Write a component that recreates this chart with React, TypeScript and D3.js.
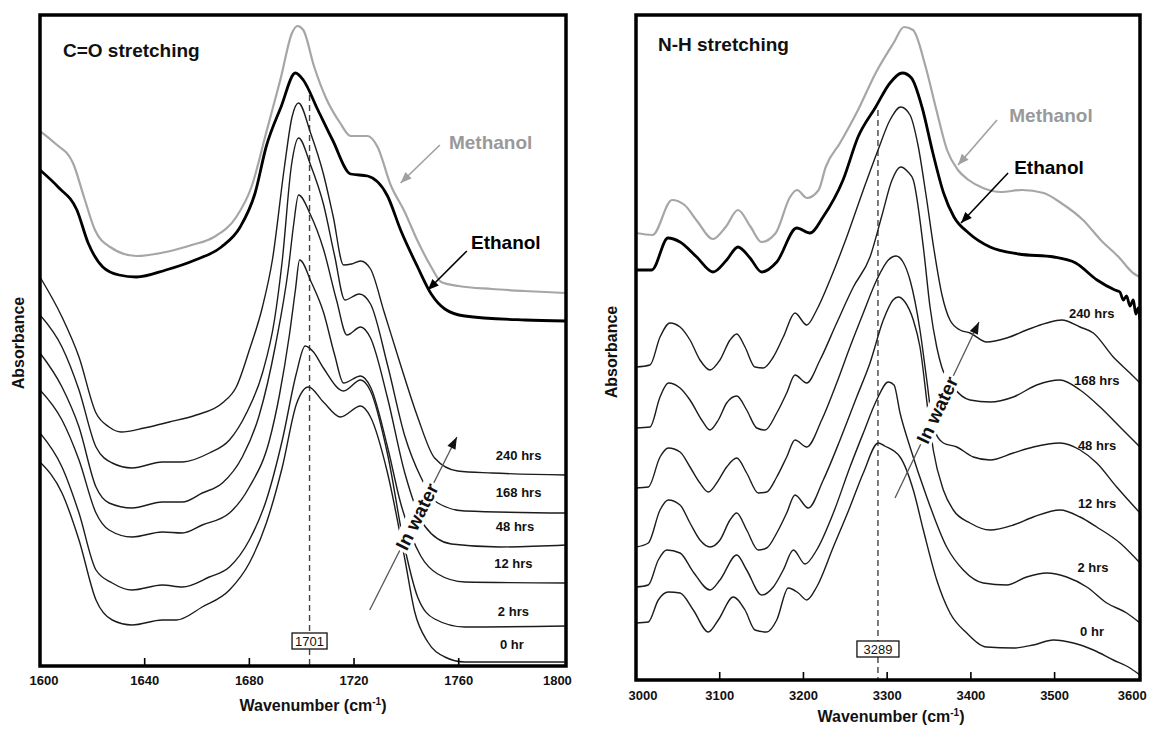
import React from 'react';
import * as d3 from 'd3';

type Pt = [number, number];

// ---------- C=O stretching (wavenumber, absorbance a.u.) ----------
const coMethanol: Pt[] = [
  [1600, 535], [1605.6, 523], [1612.6, 503], [1616.8, 469], [1621, 436], [1626.8, 419], [1636.8, 410],
  [1648.1, 414], [1658, 421], [1666.5, 429], [1675, 449], [1680.8, 479], [1686.4, 533], [1692.1, 589],
  [1696.3, 633], [1698.4, 640], [1700.6, 636], [1704.8, 599], [1709.1, 569], [1714.7, 543], [1718.7, 530],
  [1725.2, 530], [1729, 519], [1734, 481], [1739.2, 455], [1744.3, 425], [1749.5, 399], [1753.3, 384],
  [1760, 380], [1772.7, 377], [1785, 375], [1801, 373],
];
const coEthanol: Pt[] = [
  [1600, 496], [1606.9, 479], [1614.1, 456], [1618.4, 423], [1624, 399], [1630.2, 391], [1636.8, 389],
  [1648.1, 396], [1659.3, 406], [1669.3, 419], [1676.5, 439], [1682.2, 473], [1686.4, 519], [1692.1, 559],
  [1697.6, 593], [1700.6, 586], [1706.2, 556], [1711.8, 526], [1718.7, 492], [1725.2, 490], [1732.8, 470],
  [1737.8, 436], [1744.3, 399], [1749.5, 372], [1754.7, 357], [1762.3, 350], [1785.3, 346], [1801, 345],
];
const co240: Pt[] = [
  [1600, 389], [1608.4, 349], [1614.9, 309], [1621.4, 253], [1626.4, 239], [1631, 234], [1639.8, 238],
  [1649.4, 244], [1659.7, 251], [1669.7, 263], [1675, 279], [1680, 316], [1685, 359], [1688.8, 406],
  [1693.4, 499], [1696.3, 549], [1698.8, 563], [1703.4, 533], [1708.3, 492], [1712, 450], [1716, 401],
  [1719, 402], [1722.5, 405], [1726.3, 397], [1731.5, 354], [1737.8, 301], [1744.3, 249], [1750.8, 208],
  [1759.6, 195], [1772.7, 193], [1801, 191],
];
const co168: Pt[] = [
  [1600, 351], [1608.4, 319], [1614.9, 276], [1621.4, 219], [1627.6, 203], [1635.2, 198], [1646.7, 204],
  [1654.4, 204], [1664.7, 213], [1672.4, 226], [1678.9, 253], [1685, 293], [1689.6, 346], [1692.6, 406],
  [1696.1, 501], [1698.8, 528], [1703.4, 501], [1708.3, 462], [1712.6, 410], [1716.5, 366], [1722, 372],
  [1726.3, 362], [1732.8, 301], [1739.4, 230], [1745.5, 189], [1752, 163], [1762.3, 155], [1801, 153],
];
const co48: Pt[] = [
  [1600, 313], [1608.4, 279], [1614.9, 239], [1621.4, 179], [1626.4, 163], [1635.2, 158], [1646.7, 164],
  [1654.4, 164], [1662, 173], [1669.7, 183], [1677.3, 209], [1683.8, 251], [1690, 321], [1695, 399],
  [1696.9, 441], [1698.8, 471], [1703.4, 451], [1708.3, 417], [1713.3, 366], [1717.3, 331], [1722.5, 339],
  [1726.3, 328], [1732.8, 268], [1739.4, 193], [1747, 140], [1757.2, 122], [1775.7, 119], [1801, 121],
];
const co12: Pt[] = [
  [1600, 276], [1608.4, 246], [1614.9, 206], [1621.4, 153], [1626.4, 136], [1635.2, 129], [1646.7, 134],
  [1654.4, 133], [1662, 141], [1672.4, 153], [1680, 179], [1687.7, 226], [1691.5, 271], [1695.3, 331],
  [1697.6, 376], [1699.2, 406], [1703.8, 383], [1708.3, 354], [1712.6, 311], [1716, 283], [1722.5, 290],
  [1726.3, 279], [1732.8, 219], [1737.8, 163], [1745.5, 110], [1752, 92], [1762.3, 84], [1801, 83],
];
const co2: Pt[] = [
  [1600, 233], [1608.4, 199], [1614.9, 153], [1621.4, 96], [1627.6, 83], [1635.2, 76], [1646.7, 81],
  [1654.4, 79], [1664.7, 89], [1672.4, 99], [1680, 126], [1686.5, 166], [1692.6, 226], [1698, 293],
  [1701.3, 320], [1704.5, 314], [1708.3, 298], [1716, 275], [1722.5, 286], [1726.3, 275], [1732.8, 212],
  [1739.4, 118], [1744.3, 69], [1750.8, 47], [1762.3, 39], [1801, 40],
];
const co0: Pt[] = [
  [1600, 204], [1608.4, 173], [1614.9, 126], [1621.4, 66], [1627.6, 46], [1635.2, 41], [1646.7, 46],
  [1652.1, 46], [1662, 59], [1672.4, 76], [1680, 103], [1686.5, 143], [1692.6, 199], [1698, 262],
  [1702.6, 279], [1708.3, 264], [1714.8, 249], [1722.5, 260], [1726.3, 249], [1732.8, 193], [1739.4, 107],
  [1743.2, 54], [1748.2, 24], [1754.7, 9], [1762.3, 4], [1801, 4],
];

// ---------- N-H stretching ----------
const nhMethanol: Pt[] = [
  [3000, 447], [3019.7, 445], [3043, 480], [3058, 475], [3072.9, 459], [3092, 441], [3107.1, 453],
  [3121.8, 470], [3137, 453], [3149.8, 438], [3166.9, 447], [3184, 483], [3192.3, 490], [3204.3, 482],
  [3218.1, 490], [3226.6, 513], [3243.7, 537], [3265.2, 570], [3286.3, 607], [3307.7, 637], [3320.1, 653],
  [3330.9, 650], [3346, 613], [3358.8, 570], [3371.5, 530], [3384.5, 510], [3397.3, 500], [3414.5, 492],
  [3435.6, 488], [3461.1, 490], [3486.9, 487], [3507.7, 477], [3533.9, 460], [3555.1, 440], [3576.5, 423],
  [3593.7, 407], [3602, 403],
];
const nhEthanol: Pt[] = [
  [3000, 410], [3018.8, 410], [3038.2, 442], [3052.6, 438], [3072.5, 423], [3092, 408], [3108.3, 420],
  [3121.8, 433], [3136.2, 422], [3150.1, 408], [3168.1, 418], [3192, 452], [3207.8, 447], [3223.4, 463],
  [3247.3, 500], [3265.2, 543], [3286.3, 573], [3303.4, 597], [3318.3, 607], [3329, 602], [3341.6, 573],
  [3354.6, 527], [3367.4, 487], [3379.8, 463], [3397.3, 447], [3422.9, 433], [3457, 426], [3499.3, 423],
  [3525.2, 417], [3550.7, 400], [3572, 390], [3578, 388], [3582, 380], [3586, 384], [3590, 374],
  [3594, 380], [3597, 366], [3600, 372], [3602, 360],
];
const nh240: Pt[] = [
  [3000, 313], [3016.7, 315], [3028.7, 343], [3040.6, 357], [3052.6, 353], [3064.5, 340], [3076.4, 320],
  [3088.4, 310], [3100.3, 320], [3112.3, 340], [3120.3, 346], [3130.2, 333], [3142.1, 313], [3152.1, 312],
  [3164, 323], [3175.9, 343], [3189.9, 367], [3203.9, 355], [3215.8, 370], [3231.7, 400], [3251.7, 443],
  [3271.5, 490], [3289.1, 530], [3303.4, 560], [3316.2, 573], [3327.3, 565], [3336.8, 535], [3346.4, 485],
  [3356, 430], [3365.5, 385], [3375, 360], [3387, 350], [3399, 347], [3418.9, 338], [3442.8, 342],
  [3466.7, 350], [3490.6, 357], [3508.5, 360], [3530.4, 353], [3546.3, 347], [3570.1, 323], [3590, 307],
  [3602, 297],
];
const nh168: Pt[] = [
  [3000, 252], [3016.7, 253], [3028.7, 283], [3038.6, 297], [3052.6, 292], [3064.5, 280], [3078.5, 260],
  [3088.4, 250], [3098.3, 260], [3108.3, 277], [3120.3, 284], [3132.2, 270], [3144.2, 252], [3154.1, 250],
  [3168.1, 267], [3180, 287], [3189.9, 305], [3203.9, 297], [3219.8, 320], [3239.7, 357], [3259.6, 393],
  [3279.5, 423], [3293.9, 465], [3305.8, 500], [3316.2, 513], [3324.9, 508], [3331.2, 500], [3343.2, 433],
  [3351.2, 373], [3359.2, 333], [3365.2, 313], [3379, 293], [3399, 280], [3422.9, 278], [3450.7, 283],
  [3478.6, 295], [3506.5, 300], [3530.4, 290], [3554.3, 273], [3578.1, 253], [3602, 233],
];
const nh48: Pt[] = [
  [3000, 192], [3014.7, 193], [3028.7, 223], [3038.6, 232], [3052.6, 228], [3064.5, 213], [3076.4, 197],
  [3086.4, 188], [3096.4, 197], [3108.3, 213], [3120.3, 222], [3132.2, 207], [3146.1, 187], [3156.1, 188],
  [3168.1, 203], [3180, 223], [3189.9, 240], [3203.9, 233], [3221.8, 260], [3239.7, 297], [3255.6, 333],
  [3271.5, 367], [3287.5, 400], [3301.4, 420], [3310.6, 424], [3319, 418], [3327.3, 400], [3339.2, 350],
  [3347.3, 300], [3355.1, 253], [3367.1, 237], [3383.1, 233], [3402.9, 223], [3422.9, 220], [3450.7, 227],
  [3474.6, 233], [3506.5, 237], [3530.4, 230], [3550.3, 217], [3574.2, 193], [3602, 167],
];
const nh12: Pt[] = [
  [3000, 133], [3014.7, 137], [3028.7, 170], [3038.6, 180], [3052.6, 175], [3064.5, 157], [3076.4, 140],
  [3088.4, 133], [3100.3, 140], [3112.3, 160], [3120.3, 167], [3132.2, 150], [3146.1, 130], [3156.1, 132],
  [3168.1, 147], [3180, 167], [3189.9, 185], [3205.8, 172], [3223.7, 200], [3243.7, 240], [3263.6, 283],
  [3279.5, 317], [3295.4, 360], [3307, 380], [3313.3, 383], [3321.3, 378], [3331.2, 360], [3339.2, 333],
  [3349.1, 267], [3355.1, 230], [3367.1, 190], [3379, 170], [3399, 157], [3422.9, 150], [3450.7, 155],
  [3474.6, 163], [3506.5, 170], [3530.4, 163], [3550.3, 153], [3578.1, 137], [3602, 117],
];
const nh2: Pt[] = [
  [3000, 93], [3014.7, 95], [3026.6, 120], [3036.7, 130], [3052.6, 127], [3068.4, 108], [3088.4, 90],
  [3100.3, 100], [3120.3, 125], [3132.2, 110], [3150.1, 85], [3164, 93], [3175.9, 110], [3188, 130],
  [3201.9, 116], [3215.8, 130], [3235.7, 167], [3255.6, 213], [3271.5, 247], [3287.5, 280], [3301.4, 298],
  [3308.2, 295], [3315.4, 267], [3327.3, 233], [3347.3, 183], [3371.1, 133], [3390.9, 110], [3414.8, 97],
  [3442.7, 95], [3466.6, 103], [3490.5, 107], [3514.4, 103], [3538.4, 93], [3562.3, 77], [3586.1, 67],
  [3602, 57],
];
const nh0: Pt[] = [
  [3000, 57], [3014.7, 58], [3026.6, 80], [3038.6, 88], [3052.6, 87], [3068.4, 70], [3086.4, 48],
  [3098.3, 60], [3116.2, 83], [3130.2, 70], [3142.1, 50], [3156.1, 48], [3168.1, 60], [3181.9, 92],
  [3193.9, 87], [3203.9, 80], [3215.8, 93], [3235.7, 133], [3255.6, 173], [3271.5, 207], [3289.4, 237],
  [3297, 234], [3315.4, 223], [3331.2, 190], [3343.2, 150], [3359.2, 100], [3375.1, 67], [3395, 47],
  [3418.9, 33], [3450.7, 32], [3474.6, 35], [3498.5, 40], [3522.4, 37], [3546.3, 30], [3570.1, 20],
  [3590, 12], [3602, 5],
];

const coTicks = [1600, 1640, 1680, 1720, 1760, 1800];
const nhTicks = [3000, 3100, 3200, 3300, 3400, 3500, 3600];
const timeLabels = ['240 hrs', '168 hrs', '48 hrs', '12 hrs', '2 hrs', '0 hr'];
const solventLabels = ['Methanol', 'Ethanol'];

const FONT = "'Liberation Sans', Arial, Helvetica, sans-serif";

type PanelCfg = {
  id: string;
  title: string;
  titleX: number;
  titleY: number;
  left: number; right: number; top: number; bottom: number;
  xDomain: [number, number];
  yDomain: [number, number];
  ticks: number[];
  tickLabelY: number;
  firstLabelShift: number;
  lastLabelShift: number;
  xTitleX: number; xTitleY: number;
  yTitleX: number; yTitleY: number;
  methanol: Pt[]; ethanol: Pt[];
  times: Pt[][];
  timeLabelPos: Pt[];
  methanolLabel: Pt; ethanolLabel: Pt;
  methanolArrow: [Pt, Pt]; ethanolArrow: [Pt, Pt];
  waterArrow: [Pt, Pt]; waterT: number;
  peak: number; peakLabel: string; peakTop: number; boxW: number; boxAbove: number;
};

const panels: PanelCfg[] = [
  {
    id: 'co', title: 'C=O stretching', titleX: 63, titleY: 57,
    left: 40, right: 566, top: 15, bottom: 666,
    xDomain: [1600, 1801], yDomain: [0, 651],
    ticks: coTicks, tickLabelY: 685, firstLabelShift: 4, lastLabelShift: -6,
    xTitleX: 313, xTitleY: 711, yTitleX: 18, yTitleY: 343,
    methanol: coMethanol, ethanol: coEthanol,
    times: [co240, co168, co48, co12, co2, co0],
    timeLabelPos: [[1782.9, 211], [1782.9, 174], [1781.5, 140], [1780.9, 103], [1780.9, 55], [1780.3, 22]],
    methanolLabel: [1772.2, 524], ethanolLabel: [1778, 424],
    methanolArrow: [[1752.8, 521], [1737.8, 483]],
    ethanolArrow: [[1763.1, 415], [1748.2, 376]],
    waterArrow: [[1726, 56], [1759.3, 229]], waterT: 0.54,
    peak: 1703, peakLabel: '1701', peakTop: 571, boxW: 35, boxAbove: 25,
  },
  {
    id: 'nh', title: 'N-H stretching', titleX: 658, titleY: 51,
    left: 636, right: 1140, top: 15, bottom: 680,
    xDomain: [3000, 3602], yDomain: [0, 665],
    ticks: nhTicks, tickLabelY: 700, firstLabelShift: 7, lastLabelShift: -6,
    xTitleX: 891, xTitleY: 722, yTitleX: 611, yTitleY: 352,
    methanol: nhMethanol, ethanol: nhEthanol,
    times: [nh240, nh168, nh48, nh12, nh2, nh0],
    timeLabelPos: [[3544.3, 367], [3550.3, 300], [3550.7, 235], [3550.7, 177], [3545.9, 113], [3544.7, 49]],
    methanolLabel: [3495.7, 565], ethanolLabel: [3493.3, 513],
    methanolArrow: [[3431.2, 560], [3384.6, 515]],
    ethanolArrow: [[3444.4, 507], [3388.2, 457]],
    waterArrow: [[3309.4, 182], [3409.7, 358]], waterT: 0.5,
    peak: 3289, peakLabel: '3289', peakTop: 570, boxW: 42, boxAbove: 31,
  },
];

function arrowHead(x1: number, y1: number, x2: number, y2: number, len = 11, half = 4.5) {
  const a = Math.atan2(y2 - y1, x2 - x1);
  const bx = x2 - len * Math.cos(a);
  const by = y2 - len * Math.sin(a);
  const px = -Math.sin(a) * half;
  const py = Math.cos(a) * half;
  return `${x2},${y2} ${bx + px},${by + py} ${bx - px},${by - py}`;
}

function Panel({ cfg }: { cfg: PanelCfg }) {
  const x = d3.scaleLinear().domain(cfg.xDomain).range([cfg.left, cfg.right]);
  const y = d3.scaleLinear().domain(cfg.yDomain).range([cfg.bottom, cfg.top]);
  const line = d3.line<Pt>().x((d) => x(d[0])).y((d) => y(d[1])).curve(d3.curveMonotoneX);
  const clipId = `clip-${cfg.id}`;

  const [wa, wb] = cfg.waterArrow;
  const ax1 = x(wa[0]), ay1 = y(wa[1]), ax2 = x(wb[0]), ay2 = y(wb[1]);
  const ang = (Math.atan2(ay2 - ay1, ax2 - ax1) * 180) / Math.PI;
  const tx = ax1 + (ax2 - ax1) * cfg.waterT;
  const ty = ay1 + (ay2 - ay1) * cfg.waterT;

  const px = x(cfg.peak);
  const boxCy = cfg.bottom - cfg.boxAbove;
  const boxH = 16;

  const arrow = (a: [Pt, Pt], color: string) => {
    const x1 = x(a[0][0]), y1 = y(a[0][1]), x2 = x(a[1][0]), y2 = y(a[1][1]);
    return (
      <g>
        <line x1={x1} y1={y1} x2={x2} y2={y2} stroke={color} strokeWidth={1.6} />
        <polygon points={arrowHead(x1, y1, x2, y2)} fill={color} />
      </g>
    );
  };

  return (
    <g>
      <defs>
        <clipPath id={clipId}>
          <rect x={cfg.left} y={cfg.top} width={cfg.right - cfg.left} height={cfg.bottom - cfg.top} />
        </clipPath>
      </defs>

      {/* dashed peak marker */}
      <line x1={px} x2={px} y1={y(cfg.peakTop)} y2={boxCy - boxH / 2} stroke="#444" strokeWidth={1.4} strokeDasharray="6,4" />
      <line x1={px} x2={px} y1={boxCy + boxH / 2} y2={cfg.bottom} stroke="#444" strokeWidth={1.4} strokeDasharray="6,4" />

      <g clipPath={`url(#${clipId})`}>
        {cfg.times.map((s, i) => (
          <path key={i} d={line(s) || ''} fill="none" stroke="#1c1c1c" strokeWidth={1.4} strokeLinejoin="round" />
        ))}
        <path d={line(cfg.methanol) || ''} fill="none" stroke="#a6a6a6" strokeWidth={2.2} strokeLinejoin="round" />
        <path d={line(cfg.ethanol) || ''} fill="none" stroke="#000" strokeWidth={2.8} strokeLinejoin="round" />
      </g>

      {/* peak box */}
      <rect x={px - cfg.boxW / 2} y={boxCy - boxH / 2} width={cfg.boxW} height={boxH} fill="#fff" stroke="#111" strokeWidth={1.3} />
      <text x={px} y={boxCy} dy="0.36em" textAnchor="middle" fontFamily={FONT} fontSize={13} fill="#111">{cfg.peakLabel}</text>

      {/* In water arrow */}
      <line x1={ax1} y1={ay1} x2={ax2} y2={ay2} stroke="#555" strokeWidth={1.3} />
      <polygon points={arrowHead(ax1, ay1, ax2, ay2, 12, 4.5)} fill="#111" />
      <g transform={`translate(${tx},${ty}) rotate(${ang})`}>
        <rect x={-38} y={-10} width={76} height={20} fill="#fff" />
        <text x={0} y={0} dy="0.36em" textAnchor="middle" fontFamily={FONT} fontWeight="bold" fontSize={19} fill="#111">In water</text>
      </g>

      {/* solvent labels */}
      {arrow(cfg.methanolArrow, '#a0a0a0')}
      {arrow(cfg.ethanolArrow, '#000')}
      <text x={x(cfg.methanolLabel[0])} y={y(cfg.methanolLabel[1])} dy="0.36em" textAnchor="middle" fontFamily={FONT} fontWeight="bold" fontSize={19} fill="#999">{solventLabels[0]}</text>
      <text x={x(cfg.ethanolLabel[0])} y={y(cfg.ethanolLabel[1])} dy="0.36em" textAnchor="middle" fontFamily={FONT} fontWeight="bold" fontSize={19} fill="#000">{solventLabels[1]}</text>

      {/* time labels */}
      {timeLabels.map((t, i) => (
        <text key={t} x={x(cfg.timeLabelPos[i][0])} y={y(cfg.timeLabelPos[i][1])} dy="0.36em" textAnchor="middle" fontFamily={FONT} fontWeight="bold" fontSize={13} fill="#111">{t}</text>
      ))}

      {/* title */}
      <text x={cfg.titleX} y={cfg.titleY} fontFamily={FONT} fontWeight="bold" fontSize={19} fill="#111">{cfg.title}</text>

      {/* frame */}
      <rect x={cfg.left} y={cfg.top} width={cfg.right - cfg.left} height={cfg.bottom - cfg.top} fill="none" stroke="#000" strokeWidth={3.5} />

      {/* ticks */}
      {cfg.ticks.map((t, i) => {
        const tx0 = x(t);
        const shift = i === 0 ? cfg.firstLabelShift : i === cfg.ticks.length - 1 ? cfg.lastLabelShift : 0;
        const inner = i !== 0 && i !== cfg.ticks.length - 1;
        return (
          <g key={t}>
            {inner && <line x1={tx0} x2={tx0} y1={cfg.bottom} y2={cfg.bottom - 8} stroke="#000" strokeWidth={1.6} />}
            <text x={tx0 + shift} y={cfg.tickLabelY} textAnchor="middle" fontFamily={FONT} fontWeight="bold" fontSize={13} fill="#111">{t}</text>
          </g>
        );
      })}

      {/* axis titles */}
      <text x={cfg.xTitleX} y={cfg.xTitleY} textAnchor="middle" fontFamily={FONT} fontWeight="bold" fontSize={16} fill="#111">
        Wavenumber (cm<tspan dy={-6} fontSize={10}>-1</tspan><tspan dy={6}>)</tspan>
      </text>
      <text transform={`translate(${cfg.yTitleX},${cfg.yTitleY}) rotate(-90)`} dy="0.36em" textAnchor="middle" fontFamily={FONT} fontWeight="bold" fontSize={16} fill="#111">Absorbance</text>
    </g>
  );
}

export default function App() {
  return (
    <svg width={1149} height={730} style={{ position: 'absolute', left: 0, top: 0, background: '#fff' }}>
      <rect x={0} y={0} width={1149} height={730} fill="#fff" />
      {panels.map((p) => (
        <Panel key={p.id} cfg={p} />
      ))}
    </svg>
  );
}
